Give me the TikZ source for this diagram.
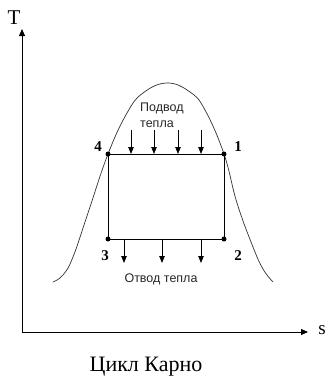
\documentclass[tikz,border=0pt]{standalone}
\usepackage{fontspec}
\setmainfont{Liberation Serif}
\newfontfamily\arialf{Liberation Sans}
\usetikzlibrary{arrows.meta}
\begin{document}
\begin{tikzpicture}[x=1pt,y=-1pt,
  ln/.style={line width=0.8pt,black},
  tip/.style={-{Triangle[length=7pt,width=6pt]}},
  heat/.style={line width=0.8pt,-{Triangle[length=7pt,width=5.5pt]}},
  dot/.style={circle,fill=black,inner sep=0pt,minimum size=5pt},
  num/.style={font=\fontsize{15}{15}\selectfont\bfseries,inner sep=0pt},
  sans/.style={font=\arialf\fontsize{12.5}{15}\selectfont,inner sep=0pt,text=black!85}]
\useasboundingbox (0,0) rectangle (326,381);
% axes
\coordinate (O) at (22,332);
\coordinate (Tend) at (22,29);
\coordinate (Send) at (308,332);
\draw[ln,tip] (O) -- (Tend);
\draw[ln,tip] (O) -- (Send);
\node[font=\fontsize{21}{21}\selectfont,inner sep=0pt] (T) at (14,18) {T};
\node[font=\fontsize{19}{19}\selectfont,inner sep=0pt] (S) at (322,330) {s};
% dome
\draw[line width=0.7pt,black!80] plot[smooth,tension=0.7] coordinates {(53,282) (63,275) (73,257) (88,213) (108,154) (127,113) (143,93) (167,83) (190,92) (205,110) (224,154) (237,203) (253,247) (263,269) (273,282)};
% cycle
\node[dot] (p4) at (108,154) {};
\node[dot] (p1) at (224,154) {};
\node[dot] (p3) at (108,239) {};
\node[dot] (p2) at (224,239) {};
\draw[ln] (p4.center) -- (p1.center) -- (p2.center) -- (p3.center) -- cycle;
\node[num] (l4) at (98,147) {4};
\node[num] (l1) at (238,147) {1};
\node[num] (l3) at (105,256) {3};
\node[num] (l2) at (238,256) {2};
% heat in
\foreach \x [count=\i] in {131,154,178,201}{
  \coordinate (a\i) at (\x,130);
  \coordinate (b\i) at (\x,154);
  \draw[heat] (a\i) -- (b\i);
}
% heat out
\foreach \x [count=\i] in {124,162,201}{
  \coordinate (c\i) at (\x,239);
  \coordinate (d\i) at (\x,263);
  \draw[heat] (c\i) -- (d\i);
}
\node[sans,anchor=west] (in1) at (140,108) {Подвод};
\node[sans,anchor=west] (in2) at (140,124) {тепла};
\node[sans] (out) at (161,279) {Отвод тепла};
\node[font=\fontsize{22}{22}\selectfont,inner sep=0pt] (title) at (146,367) {Цикл Карно};
\end{tikzpicture}
\end{document}
